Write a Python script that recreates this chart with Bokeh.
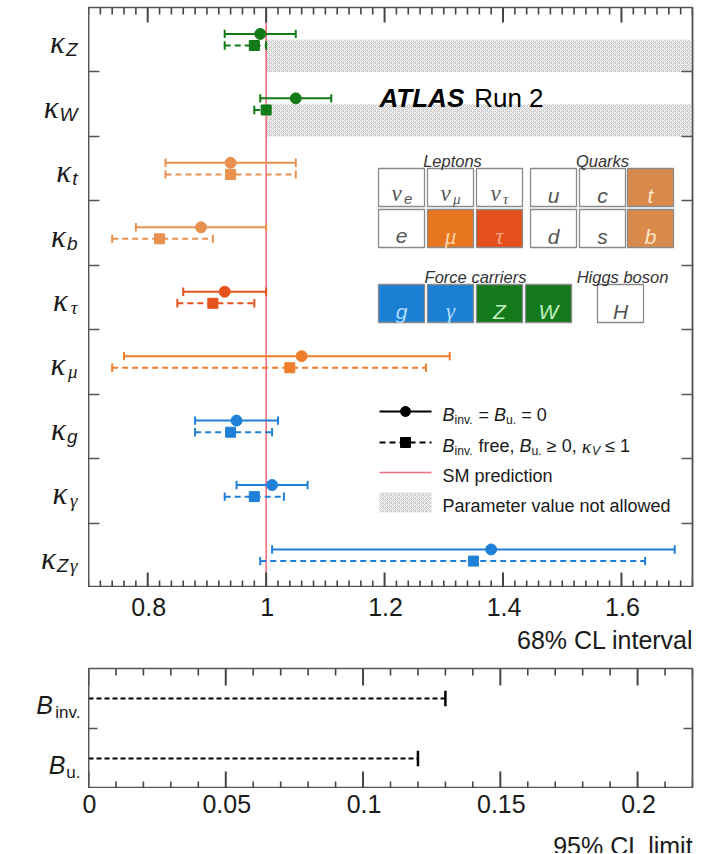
import numpy as np
from bokeh.plotting import figure
from bokeh.models import Range1d, LinearAxis, FixedTicker, ColumnDataSource
from bokeh.layouts import column, row
from bokeh.embed import file_html
from bokeh.resources import INLINE
from bokeh.core.properties import value

# ---------------- data ----------------
kappa_subscripts = ["Z", "W", "t", "b", "τ", "μ", "g", "γ", "Zγ"]
row_colors = ["#127a17", "#127a17", "#e8914f", "#e8914f", "#e4531d",
              "#ef7d2b", "#1f80d8", "#1f80d8", "#1f80d8"]
# B_inv = B_u = 0 (solid, circles)
nominal_value = [0.99, 1.05, 0.94, 0.89, 0.93, 1.06, 0.95, 1.01, 1.38]
nominal_lo    = [0.93, 0.99, 0.83, 0.78, 0.86, 0.76, 0.88, 0.95, 1.01]
nominal_hi    = [1.05, 1.11, 1.05, 1.00, 1.00, 1.31, 1.02, 1.07, 1.69]
# B_inv free, B_u >= 0, kappa_V <= 1 (dashed, squares)
free_value = [0.98, 1.00, 0.94, 0.82, 0.91, 1.04, 0.94, 0.98, 1.35]
free_lo    = [0.93, 0.98, 0.83, 0.74, 0.85, 0.74, 0.88, 0.93, 0.99]
free_hi    = [1.00, 1.00, 1.05, 0.91, 0.98, 1.27, 1.01, 1.03, 1.64]
kappaV_bounded = [True, True, False, False, False, False, False, False, False]
kappaV_max = 1.0
sm_value = 1.0
top_ticks = [0.8, 1.0, 1.2, 1.4, 1.6]
top_tick_labels = ["0.8", "1", "1.2", "1.4", "1.6"]
top_minor_step = 0.02
top_title = "68% CL interval"

br_names = ["inv.", "u."]
br_limits = [0.13, 0.12]
bot_ticks = [0.0, 0.05, 0.1, 0.15, 0.2]
bot_tick_labels = ["0", "0.05", "0.1", "0.15", "0.2"]
bot_minor_step = 0.01
bot_title = "95% CL limit"

# ---------------- style ----------------
SANS = "Liberation Sans"
SERIF = "Liberation Serif"
FRAME = "#555555"
TICK = "#444444"
TXT = "#1a1a1a"
SM_COLOR = "#f06e7e"
HATCH_FILL = "#efefef"
HATCH_COLOR = "#c4c4c4"

AW = {' ': .278, ',': .278, '.': .278, '=': .584, '%': .889, '≥': .549, '≤': .549,
      'A': .667, 'B': .667, 'C': .722, 'H': .722, 'L': .556, 'P': .667, 'R': .722,
      'S': .667, 'T': .611, 'V': .667, 'W': .944, 'Z': .611,
      'a': .556, 'b': .556, 'c': .5, 'd': .556, 'e': .556, 'f': .278, 'g': .556,
      'i': .222, 'l': .222, 'm': .833, 'n': .556, 'o': .556, 'p': .556, 'r': .333,
      's': .5, 't': .278, 'u': .556, 'v': .5, 'w': .722,
      'κ': .52, 'τ': .45, 'μ': .58, 'γ': .48, 'ν': .5}
BW = {'A': .722, 'T': .611, 'L': .611, 'S': .667}


def tw(s, size, bold=False):
    tab = BW if bold else AW
    return sum(tab.get(c, AW.get(c, .556)) for c in s) * size


# geometry (reference pixel frame)
N = len(kappa_subscripts)
TX0, TX1 = 0.7, 1.72
REF_L, REF_W = 89, 604
REF_T, REF_H = 7, 580
FW, FH = 604, 580
LABW = 88
TOTW = 698


def tx(px):
    return TX0 + (px - REF_L) / REF_W * (TX1 - TX0)


def ty(py):
    return N - (py - REF_T) / REF_H * N


def txt(fig, x, y, s, size, font=SANS, style="normal", color=TXT,
        align="left", baseline="alphabetic"):
    fig.text(x=[x], y=[y], text=[s], text_font=value(font),
             text_font_size=f"{size:.1f}px", text_font_style=style,
             text_color=color, text_align=align, text_baseline=baseline)


def rich(fig, x_px, y_px, pieces, size, xconv, yconv, color=TXT):
    x = x_px
    base = y_px + 0.36 * size
    for s, kind in pieces:
        if kind == "n":
            fs, font, style, b = size, SANS, "normal", base
        elif kind == "i":
            fs, font, style, b = size, SANS, "italic", base
        elif kind == "sub":
            fs, font, style, b = size * 0.68, SANS, "normal", base + 0.28 * size
        elif kind == "subi":
            fs, font, style, b = size * 0.68, SANS, "italic", base + 0.28 * size
        else:  # greek main
            fs, font, style, b = size * 1.1, SERIF, "italic", base
        lead = len(s) - len(s.lstrip(" "))
        core = s.strip(" ")
        if core:
            txt(fig, xconv(x + tw(" " * lead, fs)), yconv(b), core, fs, font, style, color)
        x += tw(s, fs)


def y_axis(ticks, tick_in):
    ax = LinearAxis(ticker=FixedTicker(ticks=ticks, minor_ticks=[]))
    ax.axis_line_color = FRAME
    ax.axis_line_width = 1.5
    ax.major_tick_in = tick_in
    ax.major_tick_out = 0
    ax.minor_tick_in = 0
    ax.minor_tick_out = 0
    ax.major_tick_line_color = FRAME
    ax.major_tick_line_width = 1.5
    ax.minor_tick_line_color = None
    ax.major_label_text_font_size = "0px"
    ax.major_label_standoff = 0
    return ax


def x_ticks(fig, ticks, x0, x1, step, ymin, ymax, px_per_x, px_per_y,
            major_len, minor_len):
    """Inward tick marks on the top and bottom frame edges, as thin boxes."""
    minor = [float(v) for v in np.arange(x0, x1 + 1e-9, step)
             if all(abs(v - t) > 1e-6 for t in ticks)]
    L, R, B, T = [], [], [], []
    for vals, ln_px, w_px in [(ticks, major_len, 2.0), (minor, minor_len, 1.6)]:
        hw = w_px / 2 / px_per_x
        ln = ln_px / px_per_y
        for v in vals:
            L += [v - hw, v - hw]
            R += [v + hw, v + hw]
            B += [ymin, ymax - ln]
            T += [ymin + ln, ymax]
    fig.quad(left=L, right=R, bottom=B, top=T, fill_color=TICK, line_color=None)


def tick_label_fig(ticks, labels, title, x0, x1, height, lab_base_px, title_base_px):
    """Strip under a panel holding its tick labels and axis title."""
    ppu = FW / (x1 - x0)
    lo = x0 - REF_L / ppu
    f = figure(frame_width=TOTW, frame_height=height,
               x_range=Range1d(lo, lo + TOTW / ppu), y_range=Range1d(0, height),
               x_axis_type=None, y_axis_type=None, toolbar_location=None,
               output_backend="svg", min_border=0)
    f.outline_line_color = None
    f.text(x=ticks, y=[height - lab_base_px] * len(ticks), text=labels,
           text_font=value(SANS), text_font_size="25px", text_color=TXT,
           text_align="center", text_baseline="alphabetic")
    txt(f, x1, height - title_base_px, title, 25, SANS, "normal", TXT, align="right")
    return f


# ---------------- top panel ----------------
MBT = 7
p = figure(frame_width=FW, frame_height=FH, x_range=Range1d(TX0, TX1),
           y_range=Range1d(0, N), x_axis_type=None, y_axis_type=None,
           toolbar_location=None, output_backend="svg",
           min_border_left=0, min_border_right=4, min_border_top=MBT,
           min_border_bottom=0)
p.outline_line_color = FRAME
p.outline_line_width = 1.5

row_ticks = list(range(1, N))
p.add_layout(y_axis(row_ticks, 11), "left")
p.add_layout(y_axis(row_ticks, 11), "right")

yc = [N - 0.5 - i for i in range(N)]
OFF = 0.09
CAP = 0.065

# kappa_V <= 1 not-allowed region (lower half of bounded rows)
hb = [y - 0.5 for y, f in zip(yc, kappaV_bounded) if f]
ht = [y for y, f in zip(yc, kappaV_bounded) if f]
p.quad(left=[kappaV_max] * len(hb), right=[TX1] * len(hb), bottom=hb, top=ht,
       fill_color=HATCH_FILL, line_color=None, hatch_pattern="diagonal_cross",
       hatch_color=HATCH_COLOR, hatch_scale=4, hatch_weight=1)

# SM line
p.segment(x0=[sm_value], x1=[sm_value], y0=[0], y1=[N], line_color=SM_COLOR,
          line_width=1.6)

src_n = ColumnDataSource(dict(v=nominal_value, lo=nominal_lo, hi=nominal_hi,
                              y=[y + OFF for y in yc],
                              yl=[y + OFF - CAP for y in yc],
                              yh=[y + OFF + CAP for y in yc], c=row_colors))
src_f = ColumnDataSource(dict(v=free_value, lo=free_lo, hi=free_hi,
                              y=[y - OFF for y in yc],
                              yl=[y - OFF - CAP for y in yc],
                              yh=[y - OFF + CAP for y in yc], c=row_colors))

p.segment(x0="lo", x1="hi", y0="y", y1="y", line_color="c", line_width=2, source=src_n)
p.segment(x0="lo", x1="lo", y0="yl", y1="yh", line_color="c", line_width=2, source=src_n)
p.segment(x0="hi", x1="hi", y0="yl", y1="yh", line_color="c", line_width=2, source=src_n)
p.segment(x0="lo", x1="hi", y0="y", y1="y", line_color="c", line_width=2,
          line_dash="6 4", source=src_f)
p.segment(x0="lo", x1="lo", y0="yl", y1="yh", line_color="c", line_width=2, source=src_f)
p.segment(x0="hi", x1="hi", y0="yl", y1="yh", line_color="c", line_width=2, source=src_f)
p.scatter(x="v", y="y", marker="circle", size=11, fill_color="c", line_color="c",
          source=src_n)
p.scatter(x="v", y="y", marker="square", size=10, fill_color="c", line_color="c",
          source=src_f)

x_ticks(p, top_ticks, TX0, TX1, top_minor_step, 0, N, FW / (TX1 - TX0), FH / N, 15, 7)

# ATLAS label
txt(p, tx(380), ty(97), "ATLAS", 26, SANS, "bold italic", "#000000")
txt(p, tx(380 + tw("ATLAS", 26, True) + 8), ty(97), "Run 2", 26, SANS, "normal", "#000000")

# particle table
cols6 = [379, 428, 477, 531, 580, 628]
BOXW = 46
row1 = (168, 206)
row2 = (209, 247)
row3 = (284, 322)
WHITE_T = "#555555"
cells = [
    (cols6[0], row1, "ν", "e", "#ffffff", WHITE_T),
    (cols6[1], row1, "ν", "μ", "#ffffff", WHITE_T),
    (cols6[2], row1, "ν", "τ", "#ffffff", WHITE_T),
    (cols6[3], row1, "u", "", "#ffffff", WHITE_T),
    (cols6[4], row1, "c", "", "#ffffff", WHITE_T),
    (cols6[5], row1, "t", "", "#d98a4a", "#fde3c8"),
    (cols6[0], row2, "e", "", "#ffffff", WHITE_T),
    (cols6[1], row2, "μ", "", "#e8761f", "#fcd2a8"),
    (cols6[2], row2, "τ", "", "#e4501b", "#f7a488"),
    (cols6[3], row2, "d", "", "#ffffff", WHITE_T),
    (cols6[4], row2, "s", "", "#ffffff", WHITE_T),
    (cols6[5], row2, "b", "", "#d98a4a", "#fde3c8"),
    (379, row3, "g", "", "#1b7fd4", "#b0dcff"),
    (428, row3, "γ", "", "#1b7fd4", "#b0dcff"),
    (477, row3, "Z", "", "#13791a", "#bff0bf"),
    (526, row3, "W", "", "#13791a", "#bff0bf"),
    (598, row3, "H", "", "#ffffff", WHITE_T),
]
p.quad(left=[tx(c[0]) for c in cells], right=[tx(c[0] + BOXW) for c in cells],
       top=[ty(c[1][0]) for c in cells], bottom=[ty(c[1][1]) for c in cells],
       fill_color=[c[4] for c in cells], line_color="#8a8a8a", line_width=1.3)
for cx, (r0, r1), m, s, fc, tc in cells:
    cxm = cx + BOXW / 2
    cym = (r0 + r1) / 2
    greek = m in "νμτγ"
    font = SERIF if greek else SANS
    fs = 23 if greek else 21
    if s:
        ws = tw(s, 15)
        wm = tw(m, fs)
        x0 = cxm - (wm + ws) / 2
        txt(p, tx(x0), ty(cym + 6), m, fs, font, "italic", tc)
        sfont = SERIF if s in "μτ" else SANS
        txt(p, tx(x0 + wm + 1), ty(cym + 11), s, 15, sfont, "italic", tc)
    else:
        txt(p, tx(cxm), ty(cym + 7.5), m, fs, font, "italic", tc, align="center")

for label, xc, yy in [("Leptons", 453, 160), ("Quarks", 603, 160),
                      ("Force carriers", 476, 276), ("Higgs boson", 623, 276)]:
    txt(p, tx(xc), ty(yy), label, 16.5, SANS, "italic", "#333333", align="center")

# legend
p.segment(x0=[tx(380)], x1=[tx(432)], y0=[ty(411)], y1=[ty(411)], line_color="black", line_width=2)
p.scatter(x=[tx(406)], y=[ty(411)], marker="circle", size=10, color="black")
p.segment(x0=[tx(380)], x1=[tx(432)], y0=[ty(442)], y1=[ty(442)], line_color="black",
          line_width=2, line_dash="6 4")
p.scatter(x=[tx(406)], y=[ty(442)], marker="square", size=10, color="black")
p.segment(x0=[tx(380)], x1=[tx(432)], y0=[ty(472)], y1=[ty(472)], line_color=SM_COLOR,
          line_width=1.6)
p.quad(left=[tx(380)], right=[tx(432)], top=[ty(492)], bottom=[ty(512)],
       fill_color=HATCH_FILL, line_color=None, hatch_pattern="diagonal_cross",
       hatch_color=HATCH_COLOR, hatch_scale=4, hatch_weight=1)
LS = 18
rich(p, 443, 408, [("B", "i"), ("inv.", "sub"), (" = ", "n"), ("B", "i"),
                   ("u.", "sub"), (" = 0", "n")], LS, tx, ty)
rich(p, 443, 439, [("B", "i"), ("inv.", "sub"), (" free, ", "n"), ("B", "i"),
                   ("u.", "sub"), (" ≥ 0, ", "n"), ("κ", "k"), ("V", "subi"),
                   (" ≤ 1", "n")], LS, tx, ty)
rich(p, 443, 469, [("SM prediction", "n")], LS, tx, ty)
rich(p, 443, 499, [("Parameter value not allowed", "n")], LS, tx, ty)

# kappa labels (separate narrow figure)
lab = figure(frame_width=LABW, frame_height=FH, x_range=Range1d(0, LABW),
             y_range=Range1d(0, N), x_axis_type=None, y_axis_type=None,
             toolbar_location=None, output_backend="svg", min_border_left=0,
             min_border_right=0, min_border_top=MBT, min_border_bottom=0)
lab.outline_line_color = None
RIGHT = 77
for i, s in enumerate(kappa_subscripts):
    cy = REF_T + (i + 0.5) * REF_H / N
    sfs = 19
    swid = sum(tw(ch, sfs) for ch in s)
    xr = RIGHT
    for ch in reversed(s):
        f = SERIF if ch in "τμγ" else SANS
        txt(lab, xr, ty(cy + 10), ch, sfs, f, "italic", TXT, align="right")
        xr -= tw(ch, sfs)
    txt(lab, RIGHT - swid - 1, ty(cy + 3), "κ", 31, SERIF, "italic", TXT, align="right")

axt = tick_label_fig(top_ticks, top_tick_labels, top_title, TX0, TX1, 70, 19, 52)

# ---------------- bottom panel ----------------
BX0, BX1 = 0.0, 0.22
BFH = 120
MBT2 = 11
b = figure(frame_width=FW, frame_height=BFH, x_range=Range1d(BX0, BX1),
           y_range=Range1d(0, 2), x_axis_type=None, y_axis_type=None,
           toolbar_location=None, output_backend="svg",
           min_border_left=0, min_border_right=4, min_border_top=MBT2,
           min_border_bottom=0)
b.outline_line_color = FRAME
b.outline_line_width = 1.5
b.add_layout(y_axis([1], 9), "left")
b.add_layout(y_axis([1], 9), "right")

yb = [len(br_names) - 0.5 - i for i in range(len(br_names))]
BCAP = 0.13
b.segment(x0=[0] * len(yb), x1=br_limits, y0=yb, y1=yb, line_color="black",
          line_width=2, line_dash="5 3")
b.segment(x0=br_limits, x1=br_limits, y0=[y - BCAP for y in yb],
          y1=[y + BCAP for y in yb], line_color="black", line_width=2.5)
x_ticks(b, bot_ticks, BX0, BX1, bot_minor_step, 0, 2, FW / (BX1 - BX0), BFH / 2, 17, 7)

labb = figure(frame_width=LABW, frame_height=BFH, x_range=Range1d(0, LABW),
              y_range=Range1d(0, 2), x_axis_type=None, y_axis_type=None,
              toolbar_location=None, output_backend="svg", min_border_left=0,
              min_border_right=0, min_border_top=MBT2, min_border_bottom=0)
labb.outline_line_color = None


def tyb(dpx):
    return dpx / BFH * 2


for nm, y in zip(br_names, yb):
    swid = tw(nm, 17)
    txt(labb, 80, y - tyb(14), nm, 17, SANS, "normal", TXT, align="right")
    txt(labb, 80 - swid - 1, y - tyb(6), "B", 25, SANS, "italic", TXT, align="right")

axb = tick_label_fig(bot_ticks, bot_tick_labels, bot_title, BX0, BX1, 65, 15, 57)

layout = column(row(lab, p), axt, row(labb, b), axb)
open("out.html", "w").write(file_html(layout, INLINE))
